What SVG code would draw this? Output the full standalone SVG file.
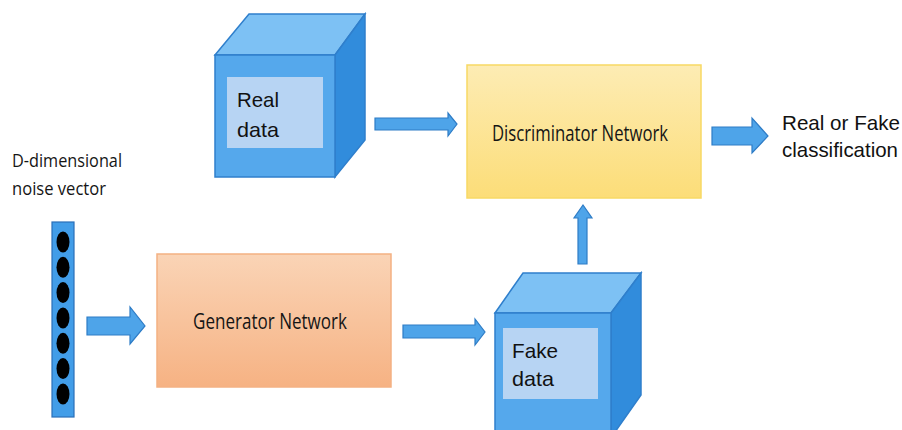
<svg xmlns="http://www.w3.org/2000/svg" width="902" height="430" viewBox="0 0 902 430">
  <defs>
    <linearGradient id="genGrad" x1="0" y1="0" x2="0" y2="1">
      <stop offset="0" stop-color="#fad4b6"/>
      <stop offset="1" stop-color="#f6b283"/>
    </linearGradient>
    <linearGradient id="discGrad" x1="0" y1="0" x2="0" y2="1">
      <stop offset="0" stop-color="#fdecb4"/>
      <stop offset="1" stop-color="#fcdd78"/>
    </linearGradient>
  </defs>
  <style>
    .front { fill: #55a8ec; stroke: #2f7fcc; stroke-width: 1.5; }
    .top { fill: #7dc1f4; stroke: #2f7fcc; stroke-width: 1.5; }
    .side { fill: #318cdc; stroke: #2f7fcc; stroke-width: 1.5; }
    .label { fill: #b7d4f3; }
    .arrow { fill: #4ea4e9; stroke: #2e7cc6; stroke-width: 1.2; }
    .arial { font-family: "Liberation Sans", Arial, sans-serif; fill: #111; font-size: 21px; }
    .cal { font-family: "Open Sans", "Noto Sans", sans-serif; fill: #151515; }
  </style>

  <g id="connectors">
    <path class="arrow" d="M87,317 H130 V307 L145,326 L130,344 V335 H87 Z"/>
    <path class="arrow" d="M375,118 H448 V113 L457,124 L448,136 V130 H375 Z"/>
    <path class="arrow" d="M403,325 H475 V319 L485,332 L475,345 V338 H403 Z"/>
    <path class="arrow" d="M578,264 V218 H574 L583,205 L592,218 H587 V264 Z"/>
    <path class="arrow" d="M712,127 H752 V118 L768,136 L752,153 V145 H712 Z"/>
  </g>

  <g id="real-data">
    <polygon class="top" points="215,55 249,14 365,14 335,55"/>
    <polygon class="side" points="335,55 365,14 365,140 335,177"/>
    <rect class="front" x="215" y="55" width="120" height="122"/>
    <rect class="label" x="227" y="77" width="96" height="71"/>
    <text class="arial" x="237" y="107" textLength="42" lengthAdjust="spacingAndGlyphs">Real</text>
    <text class="arial" x="237" y="137" textLength="42" lengthAdjust="spacingAndGlyphs">data</text>
  </g>

  <g id="noise-vector">
    <text class="cal" x="12" y="167" font-size="18.5" textLength="110" lengthAdjust="spacingAndGlyphs">D-dimensional</text>
    <text class="cal" x="12" y="195" font-size="18.5" textLength="94" lengthAdjust="spacingAndGlyphs">noise vector</text>
    <rect x="52" y="222" width="22" height="195" fill="#429de8" stroke="#2a6fb8" stroke-width="1.2"/>
    <g fill="#000">
      <ellipse cx="63" cy="242" rx="6.5" ry="10.5"/>
      <ellipse cx="63" cy="267.3" rx="6.5" ry="10.5"/>
      <ellipse cx="63" cy="292.6" rx="6.5" ry="10.5"/>
      <ellipse cx="63" cy="318" rx="6.5" ry="10.5"/>
      <ellipse cx="63" cy="343.3" rx="6.5" ry="10.5"/>
      <ellipse cx="63" cy="368.6" rx="6.5" ry="10.5"/>
      <ellipse cx="63" cy="394" rx="6.5" ry="10.5"/>
    </g>
  </g>

  <g id="generator">
    <rect x="157" y="254" width="234" height="133" fill="url(#genGrad)" stroke="#f4b183" stroke-width="1.5"/>
    <text class="cal" x="193" y="329" font-size="21.5" textLength="154" lengthAdjust="spacingAndGlyphs">Generator Network</text>
  </g>

  <g id="fake-data">
    <polygon class="top" points="495,313 523,273 641,273 611,313"/>
    <polygon class="side" points="611,313 641,273 641,395 615,432 611,432"/>
    <rect class="front" x="495" y="313" width="116" height="120"/>
    <rect class="label" x="503" y="328" width="95" height="71"/>
    <text class="arial" x="512" y="358" textLength="46" lengthAdjust="spacingAndGlyphs">Fake</text>
    <text class="arial" x="512" y="386" textLength="42" lengthAdjust="spacingAndGlyphs">data</text>
  </g>

  <g id="discriminator">
    <rect x="467" y="65" width="234" height="133" fill="url(#discGrad)" stroke="#f8d964" stroke-width="1.5"/>
    <text class="cal" x="492" y="141" font-size="21.5" textLength="176" lengthAdjust="spacingAndGlyphs">Discriminator Network</text>
  </g>

  <g id="output">
    <text class="arial" x="782" y="130" font-size="21" textLength="118" lengthAdjust="spacingAndGlyphs">Real or Fake</text>
    <text class="arial" x="782" y="157" font-size="21" textLength="116" lengthAdjust="spacingAndGlyphs">classification</text>
  </g>
</svg>
